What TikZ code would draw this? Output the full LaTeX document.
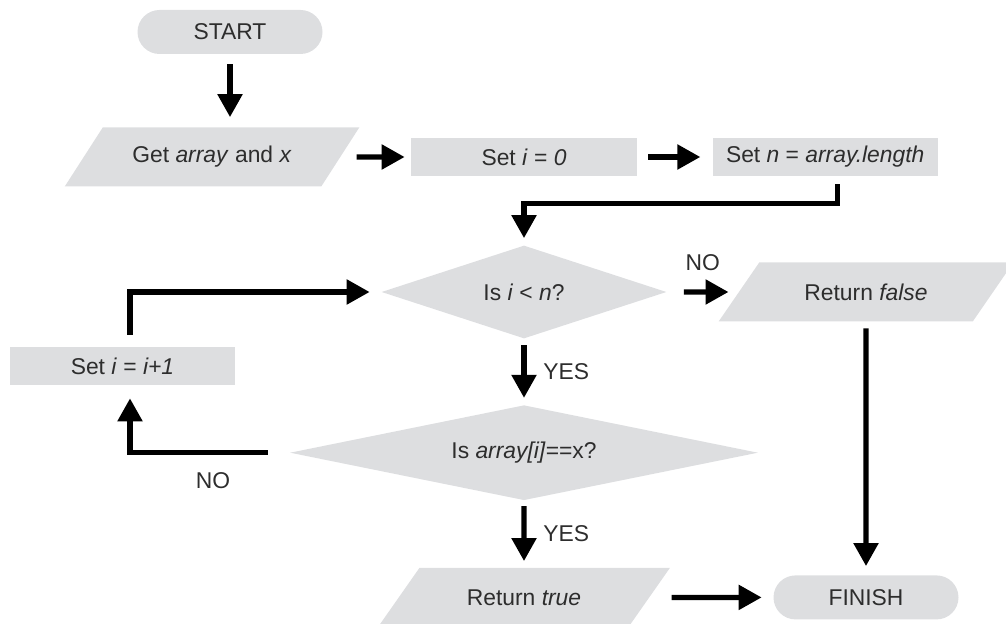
\documentclass[tikz,border=0pt]{standalone}
\usepackage{fontspec}
\setmainfont{Liberation Sans}
\usetikzlibrary{arrows.meta, positioning, calc, shapes.geometric}
\definecolor{boxgray}{RGB}{221,222,224}
\definecolor{txtgray}{RGB}{45,45,45}

\begin{document}
\begin{tikzpicture}[
    font=\fontsize{13}{15}\selectfont,
    term/.style={fill=boxgray, text=txtgray, rounded corners=0.44cm, minimum width=3.7cm, minimum height=0.88cm},
    proc/.style={fill=boxgray, text=txtgray, minimum width=4.5cm, minimum height=0.76cm},
    io/.style={fill=boxgray, text=txtgray, trapezium, trapezium left angle=48, trapezium right angle=132,
               trapezium stretches=true, minimum width=5.9cm, minimum height=1.18cm},
    dec/.style={fill=boxgray, text=txtgray, diamond, aspect=5, inner sep=0pt},
    arr/.style={-{Triangle[length=0.46cm, width=0.48cm]}, line width=3pt},
    lbl/.style={text=txtgray, inner sep=1pt}
]
\useasboundingbox (0,0) rectangle (20.12,-12.48);
% Start and input
\node[term] (start) at (4.6,-0.64) {START};
\node[io] (get) at (4.24,-3.14) {Get \textit{array} and \textit{x}};
% Setup
\node[proc, minimum width=4.52cm] (seti) at (10.48,-3.14) {Set \textit{i} = \textit{0}};
\node[proc, right=1.5cm of seti] (setn) {Set \textit{n} = \textit{array.length}};
% Loop test
\node[dec, minimum width=5.7cm, minimum height=1.86cm] (isless) at (10.48,-5.84) {Is \textit{i} < \textit{n}?};
\node[io] (retf) at (17.32,-5.84) {Return \textit{false}};
\node[proc] (inc) at (2.45,-7.32) {Set \textit{i} = \textit{i+1}};
% Compare
\node[dec, minimum width=9.36cm, minimum height=1.9cm, below=1.32cm of isless] (iseq) {Is \textit{array[i]}==x?};
\node[io, below=1.34cm of iseq] (rett) {Return \textit{true}};
% End
\node[term] (finish) at (retf |- rett) {FINISH};

\draw[arr, shorten <=0.2cm, shorten >=0.2cm] (start.south) -- (start.south |- get.north);
\draw[arr, shorten <=0.32cm, shorten >=0.12cm] (get.east) -- (seti.west);
\draw[arr, shorten <=0.22cm, shorten >=0.24cm] (seti) -- (setn);
\draw[arr, shorten >=0.14cm] ([xshift=0.25cm, yshift=-0.16cm]setn.south) -- ++(0,-0.38) -| (isless.north);
\draw[arr, shorten <=0.34cm, shorten >=0.2cm] (isless) -- (retf) node[lbl, midway, above=0.34cm] {NO};
\draw[arr, shorten <=0.13cm, shorten >=0.14cm] (isless) -- (iseq) node[lbl, midway, right=0.3cm] {YES};
\draw[arr, shorten <=0.11cm, shorten >=0.13cm] (iseq) -- (rett) node[lbl, midway, right=0.3cm] {YES};
\draw[arr, shorten <=0.13cm, shorten >=0.18cm] (retf) -- (finish);
\draw[arr, shorten <=0.44cm, shorten >=0.23cm] (rett) -- (finish);
\draw[arr, shorten <=0.44cm, shorten >=0.26cm] (iseq.west) -| ([xshift=0.15cm]inc.south) node[lbl, pos=0.24, below=0.3cm] {NO};
\draw[arr, shorten <=0.24cm, shorten >=0.23cm] ([xshift=0.15cm]inc.north) |- (isless.west);
\end{tikzpicture}
\end{document}
